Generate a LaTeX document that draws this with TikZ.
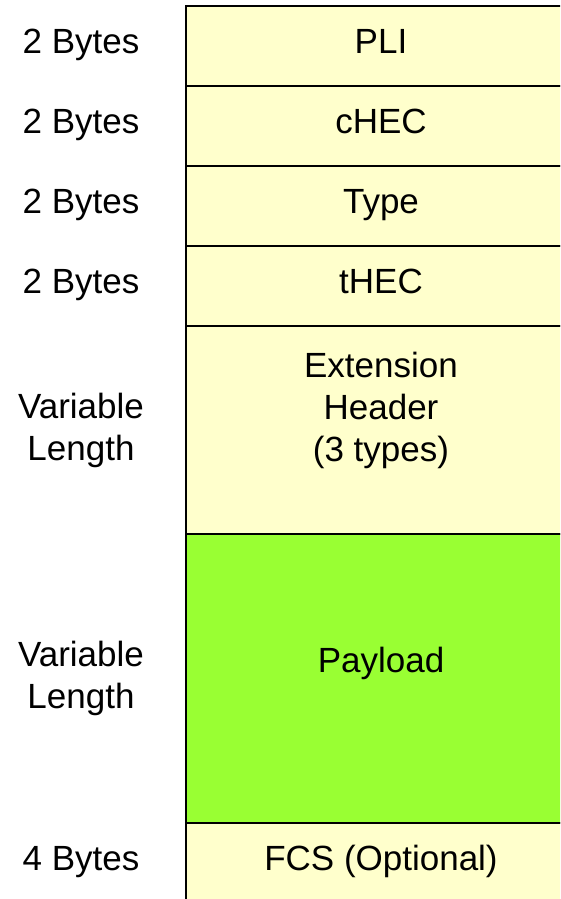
\documentclass[tikz,border=0pt]{standalone}
\usepackage{fontspec}
\setmainfont{Liberation Sans}
\usepackage{xcolor}
\usetikzlibrary{positioning}

\definecolor{hdrfill}{HTML}{FFFFCC}
\definecolor{payfill}{HTML}{99FF33}

\tikzset{
    bigfont/.style={font=\fontsize{35}{42}\selectfont},
    oneline/.style={text height=25pt,text depth=10pt},
    field/.style={draw,line width=2pt,fill=hdrfill,minimum width=390pt,
        outer sep=0pt,inner sep=0pt,bigfont,oneline},
    fieldtext/.style={bigfont,align=center,inner sep=0pt},
    sizelabel/.style={bigfont,align=center,inner sep=0pt}
}

\begin{document}
\begin{tikzpicture}[x=1pt,y=1pt,node distance=0pt]
    \clip (0,0) rectangle (560,-899);
    \coordinate (sizecol) at (81,0);

    % header fields, stacked top to bottom
    \node[field,minimum height=80pt,anchor=north west] (pli) at (186,-6) {PLI};
    \node[field,minimum height=80pt,below=of pli] (chec) {cHEC};
    \node[field,minimum height=80pt,below=of chec] (type) {Type};
    \node[field,minimum height=80pt,below=of type] (thec) {tHEC};
    \node[field,minimum height=208pt,below=of thec] (ext) {};
    \node[field,minimum height=289pt,fill=payfill,below=of ext] (payload) {};
    \node[field,minimum height=80pt,below=of payload] (fcs) {FCS (Optional)};

    \node[fieldtext] (exttext) at ([yshift=20pt]ext.center) {Extension\\Header\\(3 types)};
    \node[fieldtext] (paytext) at ([yshift=15pt]payload.center) {Payload};

    % field sizes on the left
    \node[sizelabel,oneline] (plisize) at (pli -| sizecol) {2 Bytes};
    \node[sizelabel,oneline] (checsize) at (chec -| sizecol) {2 Bytes};
    \node[sizelabel,oneline] (typesize) at (type -| sizecol) {2 Bytes};
    \node[sizelabel,oneline] (thecsize) at (thec -| sizecol) {2 Bytes};
    \node[sizelabel] (extsize) at (ext -| sizecol) {Variable\\Length};
    \node[sizelabel] (paysize) at (payload -| sizecol) {Variable\\Length};
    \node[sizelabel,oneline] (fcssize) at (fcs -| sizecol) {4 Bytes};
\end{tikzpicture}
\end{document}
